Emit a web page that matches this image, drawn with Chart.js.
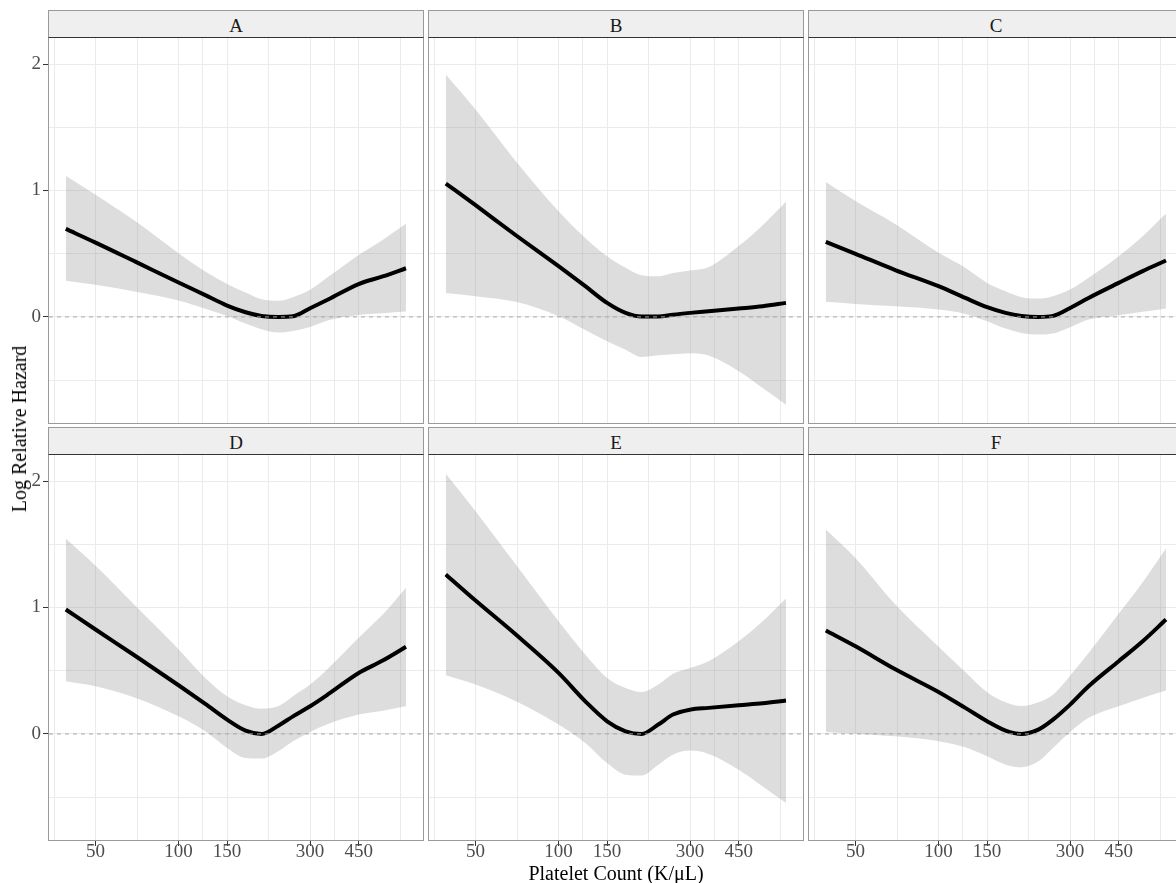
<!DOCTYPE html>
<html>
<head>
<meta charset="utf-8">
<script src="https://cdn.jsdelivr.net/npm/chart.js"></script>
<style>
  html, body { margin: 0; padding: 0; background: #fff; }
  #wrap { position: relative; width: 1176px; height: 883px; overflow: hidden;
          font-family: 'Liberation Serif', 'DejaVu Serif', serif; }
  #wrap canvas { position: absolute; }
  .frame { position: absolute; box-sizing: border-box; border: 1px solid #9a9a9a; pointer-events: none; }
  .strip { position: absolute; box-sizing: border-box; background: #efefef;
           border: 1px solid #9a9a9a; border-bottom: 1px solid #333; padding-top: 4px;
           display: flex; align-items: center; justify-content: center;
           font-size: 19px; color: #1a1a1a; }
  .xtitle { position: absolute; top: 863px; width: 400px; margin-left: -200px; text-align: center;
            font-size: 20px; line-height: 20px; color: #000; }
  .ytitle { position: absolute; left: 19px; top: 429px; white-space: nowrap;
            transform: translate(-50%, -50%) rotate(-90deg);
            font-size: 20px; line-height: 24px; color: #000; }
</style>
</head>
<body>
<div id="wrap"></div>
<script>
// platelet count (K/uL) at which each curve was read
const platelets = [39, 50, 70, 100, 125, 150, 175, 200, 230, 260, 300, 350, 450, 550, 668];

const panelNames = ['A', 'B', 'C', 'D', 'E', 'F'];

const xBreaks = [50, 100, 150, 300, 450];
const xMinor = [35.4, 70.7, 122.5, 212.1, 367.4, 636.4];
const yBreaks = [0, 1, 2];
const yMinor = [-0.5, 0.5, 1.5];

const xTitle = 'Platelet Count (K/\u03bcL)';
const yTitle = 'Log Relative Hazard';

// log relative hazard, with confidence band
const fitA = [0.696, 0.588, 0.435, 0.272, 0.172, 0.09, 0.037, 0.008, 0.0, 0.005, 0.069, 0.14, 0.26, 0.32, 0.385];
const upperA = [1.116, 0.966, 0.754, 0.504, 0.359, 0.261, 0.193, 0.14, 0.127, 0.156, 0.214, 0.319, 0.49, 0.609, 0.736];
const lowerA = [0.287, 0.255, 0.2, 0.13, 0.065, 0.008, -0.053, -0.098, -0.124, -0.111, -0.079, -0.026, 0.016, 0.029, 0.042];

const fitB = [1.055, 0.884, 0.646, 0.401, 0.243, 0.111, 0.032, 0.003, 0.003, 0.018, 0.032, 0.045, 0.066, 0.084, 0.111];
const upperB = [1.918, 1.641, 1.232, 0.836, 0.625, 0.48, 0.388, 0.33, 0.322, 0.348, 0.367, 0.393, 0.56, 0.726, 0.91];
const lowerB = [0.19, 0.164, 0.119, 0.005, -0.104, -0.193, -0.26, -0.317, -0.303, -0.296, -0.288, -0.306, -0.43, -0.562, -0.694];

const fitC = [0.594, 0.499, 0.369, 0.243, 0.15, 0.077, 0.032, 0.008, 0.0, 0.008, 0.071, 0.15, 0.269, 0.362, 0.446];
const upperC = [1.068, 0.916, 0.731, 0.507, 0.388, 0.269, 0.203, 0.156, 0.145, 0.164, 0.216, 0.309, 0.48, 0.639, 0.818];
const lowerC = [0.119, 0.103, 0.084, 0.058, 0.024, -0.034, -0.092, -0.127, -0.14, -0.132, -0.082, -0.021, 0.013, 0.04, 0.066];

const fitD = [0.984, 0.826, 0.614, 0.385, 0.237, 0.113, 0.026, 0.0, 0.065, 0.139, 0.219, 0.316, 0.482, 0.58, 0.689];
const upperD = [1.546, 1.33, 1.01, 0.67, 0.443, 0.298, 0.227, 0.2, 0.219, 0.298, 0.39, 0.522, 0.76, 0.944, 1.156];
const lowerD = [0.417, 0.377, 0.285, 0.139, 0.021, -0.111, -0.19, -0.195, -0.137, -0.058, 0.016, 0.08, 0.153, 0.184, 0.219];

const fitE = [1.261, 1.055, 0.786, 0.483, 0.258, 0.1, 0.021, 0.0, 0.074, 0.153, 0.192, 0.206, 0.227, 0.242, 0.264];
const upperE = [2.058, 1.762, 1.34, 0.891, 0.628, 0.443, 0.364, 0.332, 0.39, 0.475, 0.522, 0.575, 0.733, 0.891, 1.071];
const lowerE = [0.464, 0.39, 0.258, 0.074, -0.071, -0.23, -0.322, -0.328, -0.243, -0.164, -0.132, -0.158, -0.283, -0.415, -0.546];

const fitF = [0.818, 0.693, 0.509, 0.332, 0.206, 0.1, 0.026, 0.0, 0.034, 0.113, 0.232, 0.377, 0.575, 0.733, 0.905];
const upperF = [1.617, 1.39, 1.02, 0.69, 0.49, 0.33, 0.25, 0.22, 0.25, 0.31, 0.46, 0.64, 0.95, 1.2, 1.467];
const lowerF = [0.016, 0.0, -0.019, -0.058, -0.106, -0.177, -0.243, -0.264, -0.217, -0.111, 0.016, 0.127, 0.219, 0.285, 0.343];

const fits = [fitA, fitB, fitC, fitD, fitE, fitF];
const uppers = [upperA, upperB, upperC, upperD, upperE, upperF];
const lowers = [lowerA, lowerB, lowerC, lowerD, lowerE, lowerF];

// axis limits (ggplot expansion around the data)
const X_MIN = 33.9, X_MAX = 770;
const Y_MIN = -0.839, Y_MAX = 2.206;

// facet geometry
const COL_LEFT = [49, 429, 809];
const ROW_TOP = [38, 455];
const PANEL_W = 374, PANEL_H = 385, STRIP_H = 28;
const X_AXIS_H = 30;

Chart.defaults.font.family = "'Liberation Serif', 'DejaVu Serif', serif";
Chart.defaults.animation = false;

const wrap = document.getElementById('wrap');
const xTicks = xBreaks.concat(xMinor).sort((a, b) => a - b);
const yTicks = yBreaks.concat(yMinor).sort((a, b) => a - b);

function pts(ys) {
    return platelets.map((p, i) => ({ x: p, y: ys[i] }));
}

// no auto padding: the plot area has to fill the panel exactly
function noPad(s) {
    s.paddingTop = 0;
    s.paddingBottom = 0;
    s.paddingLeft = 0;
    s.paddingRight = 0;
}

function makePanel(idx) {
    const col = idx % 3;
    const row = Math.floor(idx / 3);
    const left = col == 0 ? 0 : COL_LEFT[col];
    const w = col == 0 ? COL_LEFT[0] + PANEL_W : PANEL_W;
    const h = PANEL_H + (row == 1 ? X_AXIS_H : 0);

    const cv = document.createElement('canvas');
    cv.width = w;
    cv.height = h;
    cv.style.left = left + 'px';
    cv.style.top = ROW_TOP[row] + 'px';
    cv.style.width = w + 'px';
    cv.style.height = h + 'px';
    wrap.appendChild(cv);

    const frame = document.createElement('div');
    frame.className = 'frame';
    frame.style.left = (COL_LEFT[col] - 1) + 'px';
    frame.style.top = (ROW_TOP[row] - 1) + 'px';
    frame.style.width = (PANEL_W + 2) + 'px';
    frame.style.height = (PANEL_H + 2) + 'px';
    wrap.appendChild(frame);

    const strip = document.createElement('div');
    strip.className = 'strip';
    strip.style.left = (COL_LEFT[col] - 1) + 'px';
    strip.style.top = (ROW_TOP[row] - STRIP_H) + 'px';
    strip.style.width = (PANEL_W + 2) + 'px';
    strip.style.height = STRIP_H + 'px';
    strip.textContent = panelNames[idx];
    wrap.appendChild(strip);

    const showX = row == 1;
    const showY = col == 0;

    new Chart(cv.getContext('2d'), {
        type: 'line',
        data: {
            datasets: [
                { data: [{ x: X_MIN, y: 0 }, { x: X_MAX, y: 0 }], borderColor: '#a8a8a8', borderWidth: 1,
                  borderDash: [4, 4], pointRadius: 0, fill: false, order: 0 },
                { data: pts(fits[idx]), borderColor: '#000', borderWidth: 4, pointRadius: 0,
                  cubicInterpolationMode: 'monotone', fill: false, order: 1 },
                { data: pts(lowers[idx]), borderWidth: 0, borderColor: 'rgba(0,0,0,0)', pointRadius: 0,
                  cubicInterpolationMode: 'monotone', fill: false, order: 3 },
                { data: pts(uppers[idx]), borderWidth: 0, borderColor: 'rgba(0,0,0,0)', pointRadius: 0,
                  cubicInterpolationMode: 'monotone', fill: '-1', backgroundColor: 'rgba(153,153,153,0.33)', order: 2 }
            ]
        },
        options: {
            responsive: false,
            maintainAspectRatio: false,
            layout: { padding: 0, autoPadding: false },
            plugins: { legend: { display: false }, tooltip: { enabled: false } },
            scales: {
                x: {
                    type: 'logarithmic',
                    bounds: 'data',
                    min: X_MIN,
                    max: X_MAX,
                    afterBuildTicks: (s) => { s.ticks = xTicks.map(v => ({ value: v })); },
                    afterFit: (s) => { s.height = showX ? X_AXIS_H : 0; noPad(s); },
                    border: { display: false },
                    grid: {
                        color: '#ebebeb',
                        lineWidth: 1,
                        drawTicks: showX,
                        tickLength: 6,
                        tickColor: (c) => xBreaks.includes(c.tick && c.tick.value) ? '#333' : 'rgba(0,0,0,0)'
                    },
                    ticks: {
                        display: showX,
                        autoSkip: false,
                        maxRotation: 0,
                        padding: -5,
                        color: '#4d4d4d',
                        font: { size: 19 },
                        callback: (v) => xBreaks.includes(v) ? String(v) : ''
                    }
                },
                y: {
                    type: 'linear',
                    bounds: 'data',
                    min: Y_MIN,
                    max: Y_MAX,
                    afterBuildTicks: (s) => { s.ticks = yTicks.map(v => ({ value: v })); },
                    afterFit: (s) => { s.width = showY ? COL_LEFT[0] : 0; noPad(s); },
                    border: { display: false },
                    grid: {
                        color: '#ebebeb',
                        lineWidth: 1,
                        drawTicks: showY,
                        tickLength: 6,
                        tickColor: (c) => yBreaks.includes(c.tick && c.tick.value) ? '#333' : 'rgba(0,0,0,0)'
                    },
                    ticks: {
                        display: showY,
                        padding: 2,
                        color: '#4d4d4d',
                        font: { size: 19 },
                        callback: (v) => yBreaks.includes(v) ? String(v) : ''
                    }
                }
            }
        }
    });
}

panelNames.forEach((n, i) => makePanel(i));

const xt = document.createElement('div');
xt.className = 'xtitle';
xt.style.left = ((COL_LEFT[0] + COL_LEFT[2] + PANEL_W) / 2) + 'px';
xt.textContent = xTitle;
wrap.appendChild(xt);

const yt = document.createElement('div');
yt.className = 'ytitle';
yt.textContent = yTitle;
wrap.appendChild(yt);
</script>
</body>
</html>
